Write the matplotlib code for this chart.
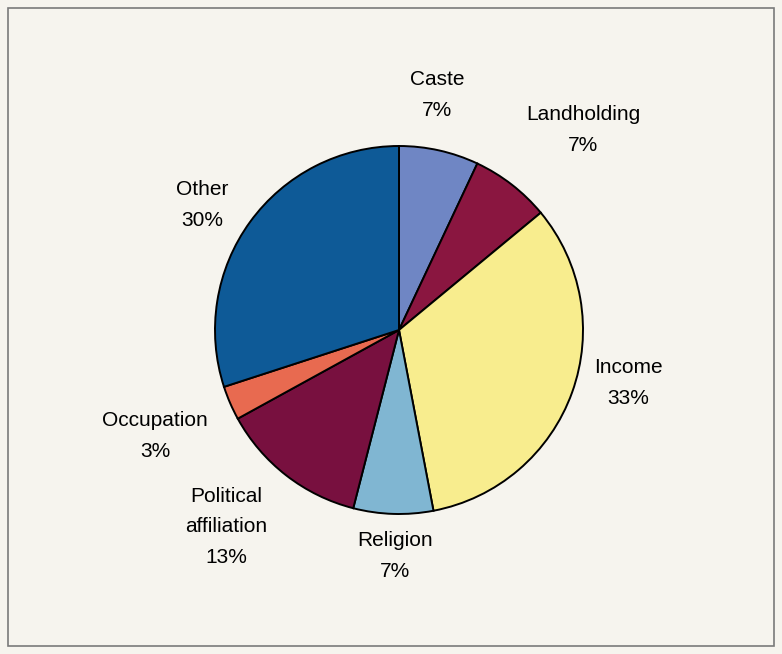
import matplotlib
matplotlib.use("Agg")
import matplotlib.pyplot as plt
from matplotlib.patches import Rectangle

# Shares of respondents by basis of discrimination
categories = ["Caste", "Landholding", "Income", "Religion",
              "Political\naffiliation", "Occupation", "Other"]
shares = [7, 7, 33, 7, 13, 3, 30]
colors = ["#6F86C4", "#8A1640", "#F8ED8E", "#80B6D2",
          "#78103F", "#E86A50", "#0E5A97"]

# label anchor points (pixels from top-left of the figure)
label_xy = [(437, 95), (583, 130), (628, 383), (395, 556),
            (226, 527), (155, 436), (202, 205)]

W, H = 782, 654
fig = plt.figure(figsize=(W / 100, H / 100), dpi=100)
fig.patch.set_facecolor("#F6F4EE")
ax = fig.add_axes([0, 0, 1, 1])

cx, cy, r = 399, H - 330, 184
ax.pie(shares, colors=colors, startangle=90, counterclock=False,
       center=(cx, cy), radius=r, frame=True,
       wedgeprops=dict(edgecolor="black", linewidth=1.4))
ax.set_xlim(0, W)
ax.set_ylim(0, H)
ax.set_aspect("equal")
ax.axis("off")

for name, val, (x, y) in zip(categories, shares, label_xy):
    ax.text(x, H - y, f"{name}\n{val}%", ha="center", va="center",
            fontsize=15, family="Liberation Sans", color="#000000",
            linespacing=1.75)

ax.add_patch(Rectangle((8, 8), W - 16, H - 16, fill=False,
                       edgecolor="#7a7a7a", linewidth=1.2))

fig.savefig("out.png", dpi=100, facecolor=fig.get_facecolor())
